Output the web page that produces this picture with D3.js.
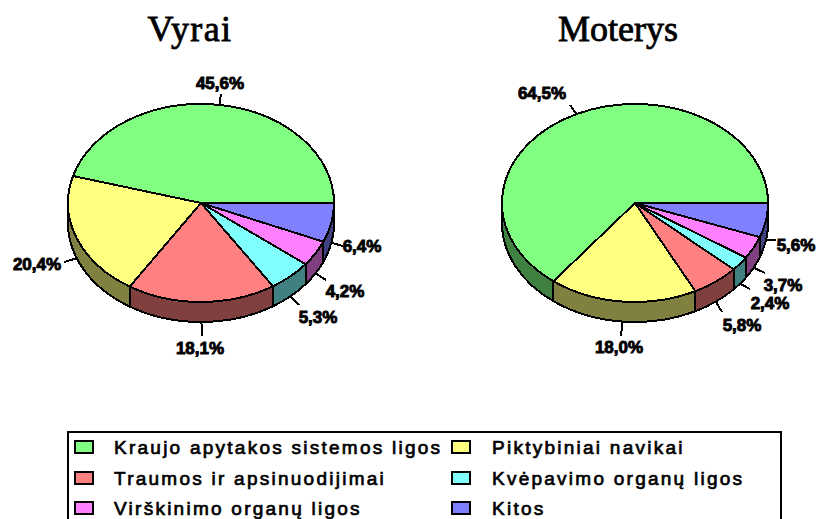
<!DOCTYPE html>
<html><head><meta charset="utf-8">
<script src="https://cdnjs.cloudflare.com/ajax/libs/d3/7.8.5/d3.min.js"></script>
<style>html,body{margin:0;padding:0;background:#fff;overflow:hidden}svg{display:block}</style>
</head><body><svg id="c" width="818" height="519"></svg>
<script>
// Data, in clockwise drawing order from 3 o'clock
const categories = ["Kitos","Virškinimo organų ligos","Kvėpavimo organų ligos","Traumos ir apsinuodijimai","Piktybiniai navikai","Kraujo apytakos sistemos ligos"];
const vyraiValues = [6.4,4.2,5.3,18.1,20.4,45.6];
const moterysValues = [5.6,3.7,2.4,5.8,18.0,64.5];
const pieTitles = ["Vyrai","Moterys"];
const legendOrder = [5,4,3,2,1,0];
const topColors = ["#8080ff","#ff80ff","#80ffff","#ff8080","#ffff80","#80ff80"];
const sideColors = ["#404080","#804080","#408080","#804040","#808040","#408040"];

// Layout
const rx=133, ry=99, depth=20;
const pies=[
 {values:vyraiValues,cx:201,cy:203,title:pieTitles[0],tx:190,ts:1.4,
  ends:[[343,246],[326,280],[299,305],[202,336],[64,262],[221,94]],
  labels:[[362,252],[345,297],[318,323],[200,354],[37,270],[220,89]]},
 {values:moterysValues,cx:635,cy:203,title:pieTitles[1],tx:618,ts:0,
  ends:[[776,240],[765,273],[750,289],[722,312],[621,336],[570,105]],
  labels:[[796,251],[783,291],[770,309],[742,331],[619,353],[542,99]]}
];
const svg=d3.select("#c");
const fmt=v=>d3.format(".1f")(v).replace(".",",")+"%";
const pieGen=d3.pie().sort(null).startAngle(Math.PI/2).endAngle(Math.PI/2+2*Math.PI);
const ang=a=>a-Math.PI/2;

pies.forEach(p=>{
  svg.append("text").attr("x",p.tx).attr("y",41).attr("text-anchor","middle")
    .attr("font-family","Liberation Serif").attr("font-size",36).attr("fill","#000")
    .attr("letter-spacing",p.ts).attr("stroke","#000").attr("stroke-width",.8).text(p.title);
  const arcs=pieGen(p.values);
  const g=svg.append("g").attr("transform",`translate(${p.cx},${p.cy}) scale(1,${ry/rx})`);
  const d=depth*rx/ry;
  arcs.forEach((a,i)=>{
    const a0=ang(a.startAngle), a1=Math.min(ang(a.endAngle),Math.PI);
    if(a0>=Math.PI) return;
    const path=d3.path();
    path.moveTo(rx*Math.cos(a0),rx*Math.sin(a0));
    path.arc(0,0,rx,a0,a1);
    path.lineTo(rx*Math.cos(a1),rx*Math.sin(a1)+d);
    path.arc(0,d,rx,a1,a0,true);
    path.closePath();
    g.append("path").attr("d",path.toString()).attr("fill",sideColors[i])
      .attr("stroke","#000").attr("stroke-width",2).attr("vector-effect","non-scaling-stroke")
      .attr("shape-rendering","crispEdges");
  });
  const arcGen=d3.arc().innerRadius(0).outerRadius(rx);
  g.selectAll("path.top").data(arcs).join("path").attr("class","top")
    .attr("d",arcGen).attr("fill",(_,i)=>topColors[i])
    .attr("stroke","#000").attr("stroke-width",2).attr("vector-effect","non-scaling-stroke")
    .attr("shape-rendering","crispEdges");
  arcs.forEach((a,i)=>{
    const m=ang((a.startAngle+a.endAngle)/2);
    const sx=p.cx+rx*Math.cos(m), sy=p.cy+ry*Math.sin(m)+(Math.sin(m)>0?depth:0);
    svg.append("line").attr("x1",sx).attr("y1",sy).attr("x2",p.ends[i][0]).attr("y2",p.ends[i][1])
      .attr("stroke","#000").attr("stroke-width",2).attr("shape-rendering","crispEdges");
    svg.append("text").attr("x",p.labels[i][0]).attr("y",p.labels[i][1]).attr("text-anchor","middle")
      .attr("font-family","Liberation Sans").attr("font-weight","bold").attr("font-size",17)
      .attr("fill","#000").attr("stroke","#000").attr("stroke-width",.9).text(fmt(p.values[i]));
  });
});

svg.append("rect").attr("x",67.5).attr("y",431.5).attr("width",713).attr("height",100)
  .attr("fill","none").attr("stroke","#000").attr("stroke-width",2).attr("shape-rendering","crispEdges");
const colX=[[75,114],[452,492]], rowY=[447,478,508];
legendOrder.forEach((c,k)=>{
  const col=k%2,row=Math.floor(k/2);
  svg.append("rect").attr("x",colX[col][0]).attr("y",rowY[row]-6).attr("width",18).attr("height",12)
    .attr("fill",topColors[c]).attr("stroke","#000").attr("stroke-width",2).attr("shape-rendering","crispEdges");
  svg.append("text").attr("x",colX[col][1]).attr("y",rowY[row]+7)
    .attr("font-family","Liberation Sans").attr("font-size",19).attr("letter-spacing",2.25)
    .attr("fill","#000").attr("stroke","#000").attr("stroke-width",.7).text(categories[c]);
});
</script></body></html>
